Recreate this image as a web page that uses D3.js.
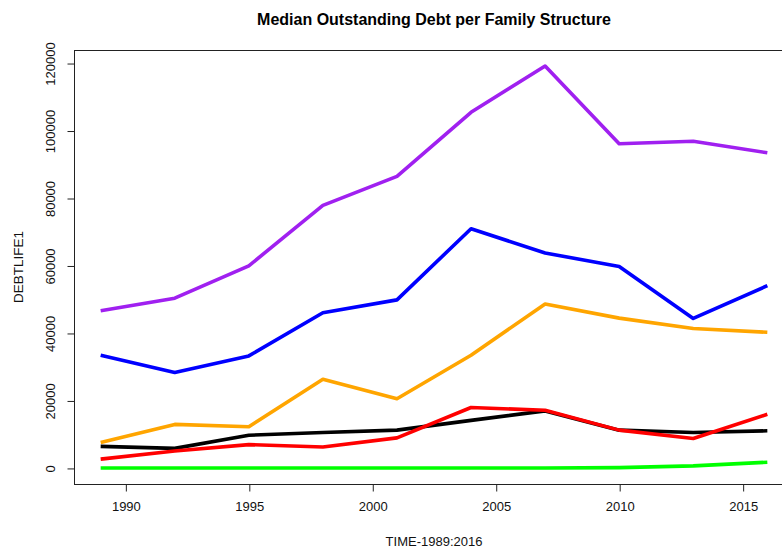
<!DOCTYPE html>
<html>
<head>
<meta charset="utf-8">
<script src="https://cdn.jsdelivr.net/npm/d3@7"></script>
<style>
  html, body { margin: 0; padding: 0; background: #ffffff; }
  svg { display: block; font-family: "Liberation Sans", Arial, sans-serif; }
</style>
</head>
<body>
<svg id="chart" width="782" height="550"></svg>
<script>
// Survey years
const years = [1989, 1992, 1995, 1998, 2001, 2004, 2007, 2010, 2013, 2016];

// Median outstanding debt by family structure
const purpleSeries = [46600, 50300, 59900, 77800, 86400, 105400, 119100, 96100, 96800, 93400];
const blueSeries   = [33400, 28300, 33200, 46000, 49800, 70900, 63700, 59700, 44300, 54000];
const orangeSeries = [7500, 12900, 12200, 26300, 20500, 33400, 48600, 44400, 41300, 40200];
const blackSeries  = [6400, 5800, 9700, 10500, 11200, 14100, 16900, 11200, 10500, 11000];
const redSeries    = [2600, 5000, 6900, 6200, 8900, 17900, 17100, 11200, 8700, 15900];
const greenSeries  = [0, 0, 0, 0, 0, 0, 0, 100, 600, 1700];

const xTicks = [1990, 1995, 2000, 2005, 2010, 2015];
const yTicks = [0, 20000, 40000, 60000, 80000, 100000, 120000];

const series = [
  { values: purpleSeries, color: "#A020F0" },
  { values: blueSeries,   color: "#0000FF" },
  { values: orangeSeries, color: "#FFA500" },
  { values: blackSeries,  color: "#000000" },
  { values: redSeries,    color: "#FF0000" },
  { values: greenSeries,  color: "#00FF00" }
];

const svg = d3.select("#chart");

// Plot region (right edge falls past the canvas)
const plotLeft = 74, plotRight = 794, plotTop = 50, plotBottom = 484;

// Axis limits padded by 4% on each side
function padded(ext) {
  const d = (ext[1] - ext[0]) * 0.04;
  return [ext[0] - d, ext[1] + d];
}
const xDom = padded(d3.extent(years));
const allVals = series.flatMap(s => s.values);
const yDom = padded([d3.min(allVals), d3.max(allVals)]);

const x = d3.scaleLinear().domain(xDom).range([plotLeft, plotRight]);
const y = d3.scaleLinear().domain(yDom).range([plotBottom, plotTop]);

const ink = "#222";

// Lines
const line = d3.line()
  .x((d, i) => x(years[i]))
  .y(d => y(d));

svg.append("g").selectAll("path")
  .data(series)
  .join("path")
  .attr("d", d => line(d.values))
  .attr("fill", "none")
  .attr("stroke", d => d.color)
  .attr("stroke-width", 3.6)
  .attr("stroke-linejoin", "round")
  .attr("stroke-linecap", "butt");

// Plot box
svg.append("rect")
  .attr("x", plotLeft + 0.5)
  .attr("y", plotTop + 0.5)
  .attr("width", plotRight - plotLeft)
  .attr("height", plotBottom - plotTop)
  .attr("fill", "none")
  .attr("stroke", ink)
  .attr("stroke-width", 1);

// X axis
const xAxis = d3.axisBottom(x)
  .tickValues(xTicks)
  .tickFormat(d3.format("d"))
  .tickSize(7)
  .tickPadding(10)
  .tickSizeOuter(0);
const gx = svg.append("g")
  .attr("transform", `translate(0.5,${plotBottom + 0.5})`)
  .call(xAxis);
gx.select(".domain")
  .attr("d", `M${x(xTicks[0])},0H${x(xTicks[xTicks.length - 1])}`)
  .attr("stroke", ink);
gx.selectAll(".tick line").attr("stroke", ink);
gx.selectAll(".tick text")
  .attr("font-family", "Liberation Sans, Arial, sans-serif")
  .attr("font-size", 13)
  .attr("fill", "#111")
  .attr("dy", "0.71em");

// Y axis with labels parallel to the axis
const yAxis = d3.axisLeft(y)
  .tickValues(yTicks)
  .tickFormat(d3.format("d"))
  .tickSize(7)
  .tickSizeOuter(0);
const gy = svg.append("g")
  .attr("transform", `translate(${plotLeft + 0.5},0.5)`)
  .call(yAxis);
gy.select(".domain")
  .attr("d", `M0,${y(yTicks[0])}V${y(yTicks[yTicks.length - 1])}`)
  .attr("stroke", ink);
gy.selectAll(".tick line").attr("stroke", ink);
gy.selectAll(".tick text")
  .attr("x", null)
  .attr("dy", null)
  .attr("transform", "translate(-24,0) rotate(-90)")
  .attr("text-anchor", "middle")
  .attr("dominant-baseline", "central")
  .attr("font-family", "Liberation Sans, Arial, sans-serif")
  .attr("font-size", 13)
  .attr("fill", "#111");

// Titles
const midX = (plotLeft + plotRight) / 2;
svg.append("text")
  .attr("x", midX)
  .attr("y", 19)
  .attr("text-anchor", "middle")
  .attr("dominant-baseline", "central")
  .attr("font-size", 16)
  .attr("font-weight", "bold")
  .attr("fill", "#000")
  .text("Median Outstanding Debt per Family Structure");

svg.append("text")
  .attr("x", midX)
  .attr("y", 541)
  .attr("text-anchor", "middle")
  .attr("dominant-baseline", "central")
  .attr("font-size", 13)
  .attr("fill", "#111")
  .text("TIME-1989:2016");

svg.append("text")
  .attr("transform", `translate(18,${(plotTop + plotBottom) / 2}) rotate(-90)`)
  .attr("text-anchor", "middle")
  .attr("dominant-baseline", "central")
  .attr("font-size", 13.5)
  .attr("fill", "#111")
  .text("DEBTLIFE1");
</script>
</body>
</html>
